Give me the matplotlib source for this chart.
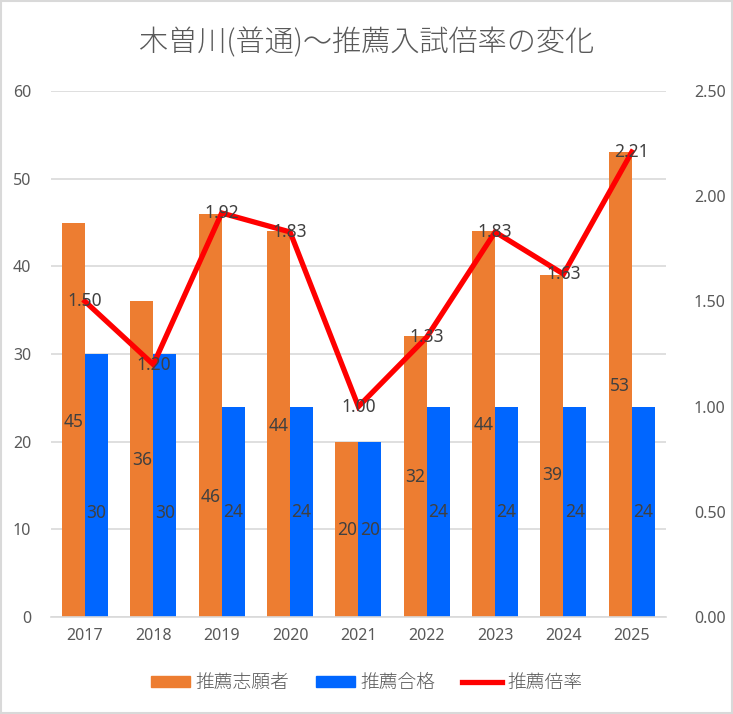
import matplotlib
matplotlib.use("Agg")
import matplotlib.pyplot as plt
import numpy as np
from matplotlib.lines import Line2D
from matplotlib.patches import Patch

plt.rcParams['font.family'] = ['Noto Sans CJK JP', 'DejaVu Sans']
NUM_FONT = ['Noto Sans', 'DejaVu Sans']

years = ["2017", "2018", "2019", "2020", "2021", "2022", "2023", "2024", "2025"]
applicants = [45, 36, 46, 44, 20, 32, 44, 39, 53]
passed = [30, 30, 24, 24, 20, 24, 24, 24, 24]
ratio = [1.50, 1.20, 1.92, 1.83, 1.00, 1.33, 1.83, 1.63, 2.21]

# label heights (data units) as placed in the reference
app_label_y = [22.3, 17.9, 13.7, 21.8, 9.9, 16.0, 21.9, 16.2, 26.4]
pass_label_y = [11.9, 11.9, 12.0, 12.0, 9.9, 12.0, 12.0, 12.0, 12.0]

orange = "#ED7D31"
blue = "#0066FF"
red = "#FF0000"
txt = "#595959"
lab = "#404040"

fig = plt.figure(figsize=(7.33, 7.14), dpi=100)
fig.patch.set_facecolor("white")
ax = fig.add_axes([50.8/733, 1 - 617/714, (666 - 50.8)/733, (617 - 91)/714])
ax2 = ax.twinx()

x = np.arange(len(years))
w = 0.336
ax.bar(x - w/2, applicants, w, color=orange, zorder=2)
ax.bar(x + w/2, passed, w, color=blue, zorder=2)
for i in range(len(years)):
    ax.text(x[i] - w/2, app_label_y[i], str(applicants[i]), ha="center", va="center",
            fontsize=12.5, color=lab, zorder=5, family=NUM_FONT)
    ax.text(x[i] + w/2, pass_label_y[i], str(passed[i]), ha="center", va="center",
            fontsize=12.5, color=lab, zorder=5, family=NUM_FONT)

ax.set_ylim(0, 60)
ax.set_yticks(range(0, 61, 10))
ax.set_xlim(-0.5, len(years) - 0.5)
ax.set_xticks(x)
ax.set_xticklabels(years, family=NUM_FONT)
ax.set_yticklabels([str(v) for v in range(0, 61, 10)], family=NUM_FONT)
ax.grid(axis="y", color="#D9D9D9", linewidth=1.2, zorder=0)
ax.set_axisbelow(True)
for s in ["top", "right", "left"]:
    ax.spines[s].set_visible(False)
ax.spines["bottom"].set_color("#D9D9D9")
ax.spines["bottom"].set_linewidth(1.2)
ax.tick_params(axis="both", length=0, colors=txt, labelsize=11.5)
ax.tick_params(axis="y", pad=14)
ax.tick_params(axis="x", pad=8)

ax2.plot(x, ratio, color=red, linewidth=3.8, zorder=3, solid_joinstyle="miter")
for i in range(len(years)):
    ax2.text(x[i], ratio[i], f"{ratio[i]:.2f}", ha="center", va="center",
             fontsize=12.5, color=lab, zorder=6, family=NUM_FONT)
ax2.set_ylim(0, 2.5)
ax2.set_yticks(np.arange(0, 2.51, 0.5))
ax2.set_yticklabels([f"{v:.2f}" for v in np.arange(0, 2.51, 0.5)], family=NUM_FONT)
for s in ["top", "right", "left", "bottom"]:
    ax2.spines[s].set_visible(False)
ax2.tick_params(axis="y", length=0, colors=txt, labelsize=11.5, pad=20)

fig.text(0.5, 1 - 43/714, "木曽川(普通)～推薦入試倍率の変化", ha="center", va="center",
         fontsize=21, color=txt, fontweight="light")

handles = [Patch(color=orange), Patch(color=blue), Line2D([0], [0], color=red, linewidth=3.8)]
fig.legend(handles, ["推薦志願者", "推薦合格", "推薦倍率"], loc="center",
           bbox_to_anchor=(0.5, 1 - 683/714), ncol=3, frameon=False,
           prop={"size": 13.5, "weight": "light"}, labelcolor=txt,
           handlelength=2.1, handleheight=0.55, columnspacing=1.4, handletextpad=0.3)

fig.add_artist(plt.Rectangle((0.001, 0.001), 0.997, 0.997, transform=fig.transFigure,
                             fill=False, edgecolor="#D9D9D9", linewidth=1.5))
fig.savefig("out.png", dpi=100)
